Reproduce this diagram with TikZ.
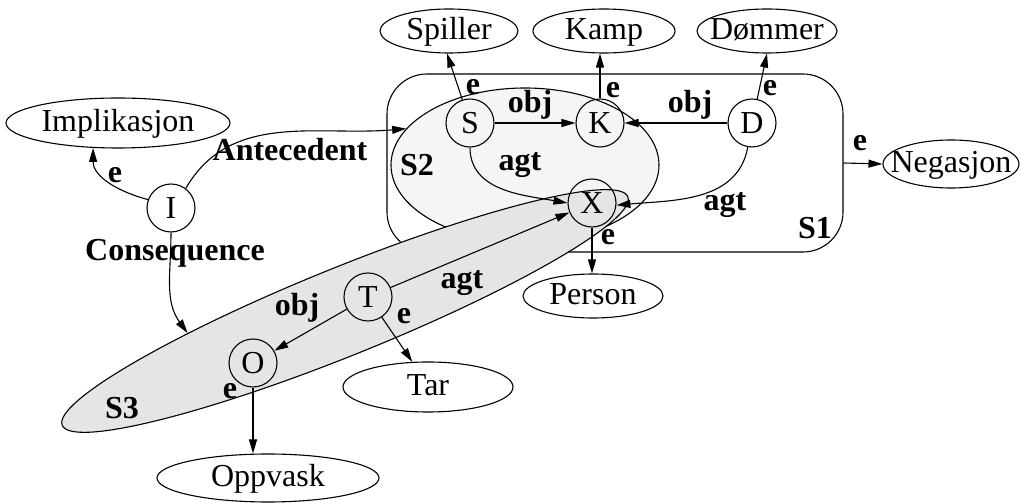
\documentclass[tikz,border=0pt]{standalone}
\usepackage{fontspec}
\setmainfont{Liberation Serif}
\usetikzlibrary{shapes.geometric,arrows.meta}
\begin{document}
\begin{tikzpicture}[x=1pt,y=1pt,line width=1.1pt,
  font=\fontsize{32}{38}\selectfont,
  arr/.style={-{Triangle[length=14pt,width=8pt]}},
  cnode/.style={circle,draw,minimum size=48pt,inner sep=0pt},
  enode/.style={ellipse,draw,inner sep=-20pt,text height=24pt,text depth=6pt},
  lbl/.style={font=\fontsize{32}{38}\selectfont\bfseries,inner sep=0pt}]
\useasboundingbox (0,0) rectangle (1021,503);
% situations
\node[draw,rounded corners=40pt,minimum width=456pt,minimum height=178pt,inner sep=0pt] (S1) at (615,340) {};
\node[ellipse,draw,fill=black!4,minimum width=268pt,minimum height=154pt,inner sep=0pt] (S2) at (525,338) {};
\node[ellipse,draw,fill=black!10,minimum width=610pt,minimum height=88pt,inner sep=0pt,rotate=22] (S3) at (345,192) {};
% concept ellipses
\node[enode,minimum width=138pt,minimum height=44pt] (Spiller) at (449,472) {Spiller};
\node[enode,minimum width=142pt,minimum height=44pt] (Kamp) at (604,472) {Kamp};
\node[enode,minimum width=140pt,minimum height=44pt] (Dom) at (767,472) {Dømmer};
\node[enode,minimum width=224pt,minimum height=50pt] (Impl) at (118,380) {Implikasjon};
\node[enode,minimum width=136pt,minimum height=48pt] (Neg) at (951,339) {Negasjon};
\node[enode,minimum width=140pt,minimum height=44pt] (Person) at (593,207) {Person};
\node[enode,minimum width=170pt,minimum height=50pt] (Tar) at (428,116) {Tar};
\node[enode,minimum width=222pt,minimum height=48pt] (Oppvask) at (268,25) {Oppvask};
% referent circles
\node[cnode] (S) at (470,380) {S};
\node[cnode] (K) at (600,380) {K};
\node[cnode] (D) at (752,380) {D};
\node[cnode] (X) at (592,300) {X};
\node[cnode] (I) at (171,295) {I};
\node[cnode] (T) at (368,206) {T};
\node[cnode] (O) at (253,140) {O};
% connectors
\draw[arr] (S) -- (Spiller.-95);
\draw[arr] (K) -- (K |- Kamp.south);
\draw[arr] (D) -- (Dom.south);
\draw[arr] (S) -- (K);
\draw[arr] (D) -- (K);
\draw[arr] (S.south) to[out=-90,in=170] (X.west);
\draw[arr] (D.-100) to[out=-100,in=5] (X.-5);
\draw[arr] (X) -- (X |- Person.north);
\draw[arr] (T) -- (X);
\draw[arr] (T) -- (O);
\draw[arr] (T) -- (Tar.122);
\draw[arr] (O) -- (O |- Oppvask.north);
\draw[arr] (I.160) to[out=165,in=-90] (Impl.-135);
\draw[arr] (I.53) to[out=60,in=185] (S2.163);
\draw[arr] (I.south) to[out=-90,in=126] (S3.166);
\draw[arr] (S1.east) -- (Neg.west);
% labels
\node[lbl] (l1) at (473,416) {e};
\node[lbl] (l2) at (613,413) {e};
\node[lbl] (l3) at (770,415) {e};
\node[lbl] (l4) at (530,398) {obj};
\node[lbl] (l5) at (690,398) {obj};
\node[lbl] (l6) at (520,338) {agt};
\node[lbl] (l7) at (725,298) {agt};
\node[lbl] (l8) at (608,266) {e};
\node[lbl] (l9) at (462,220) {agt};
\node[lbl] (l10) at (297,195) {obj};
\node[lbl] (l11) at (404,187) {e};
\node[lbl] (l12) at (230,112) {e};
\node[lbl] (l13) at (115,328) {e};
\node[lbl] (l14) at (290,353) {Antecedent};
\node[lbl] (l15) at (175,250) {Consequence};
\node[lbl] (l16) at (860,360) {e};
\node[lbl] (l17) at (815,275) {S1};
\node[lbl] (l18) at (417,338) {S2};
\node[lbl] (l19) at (122,95) {S3};
\end{tikzpicture}
\end{document}
